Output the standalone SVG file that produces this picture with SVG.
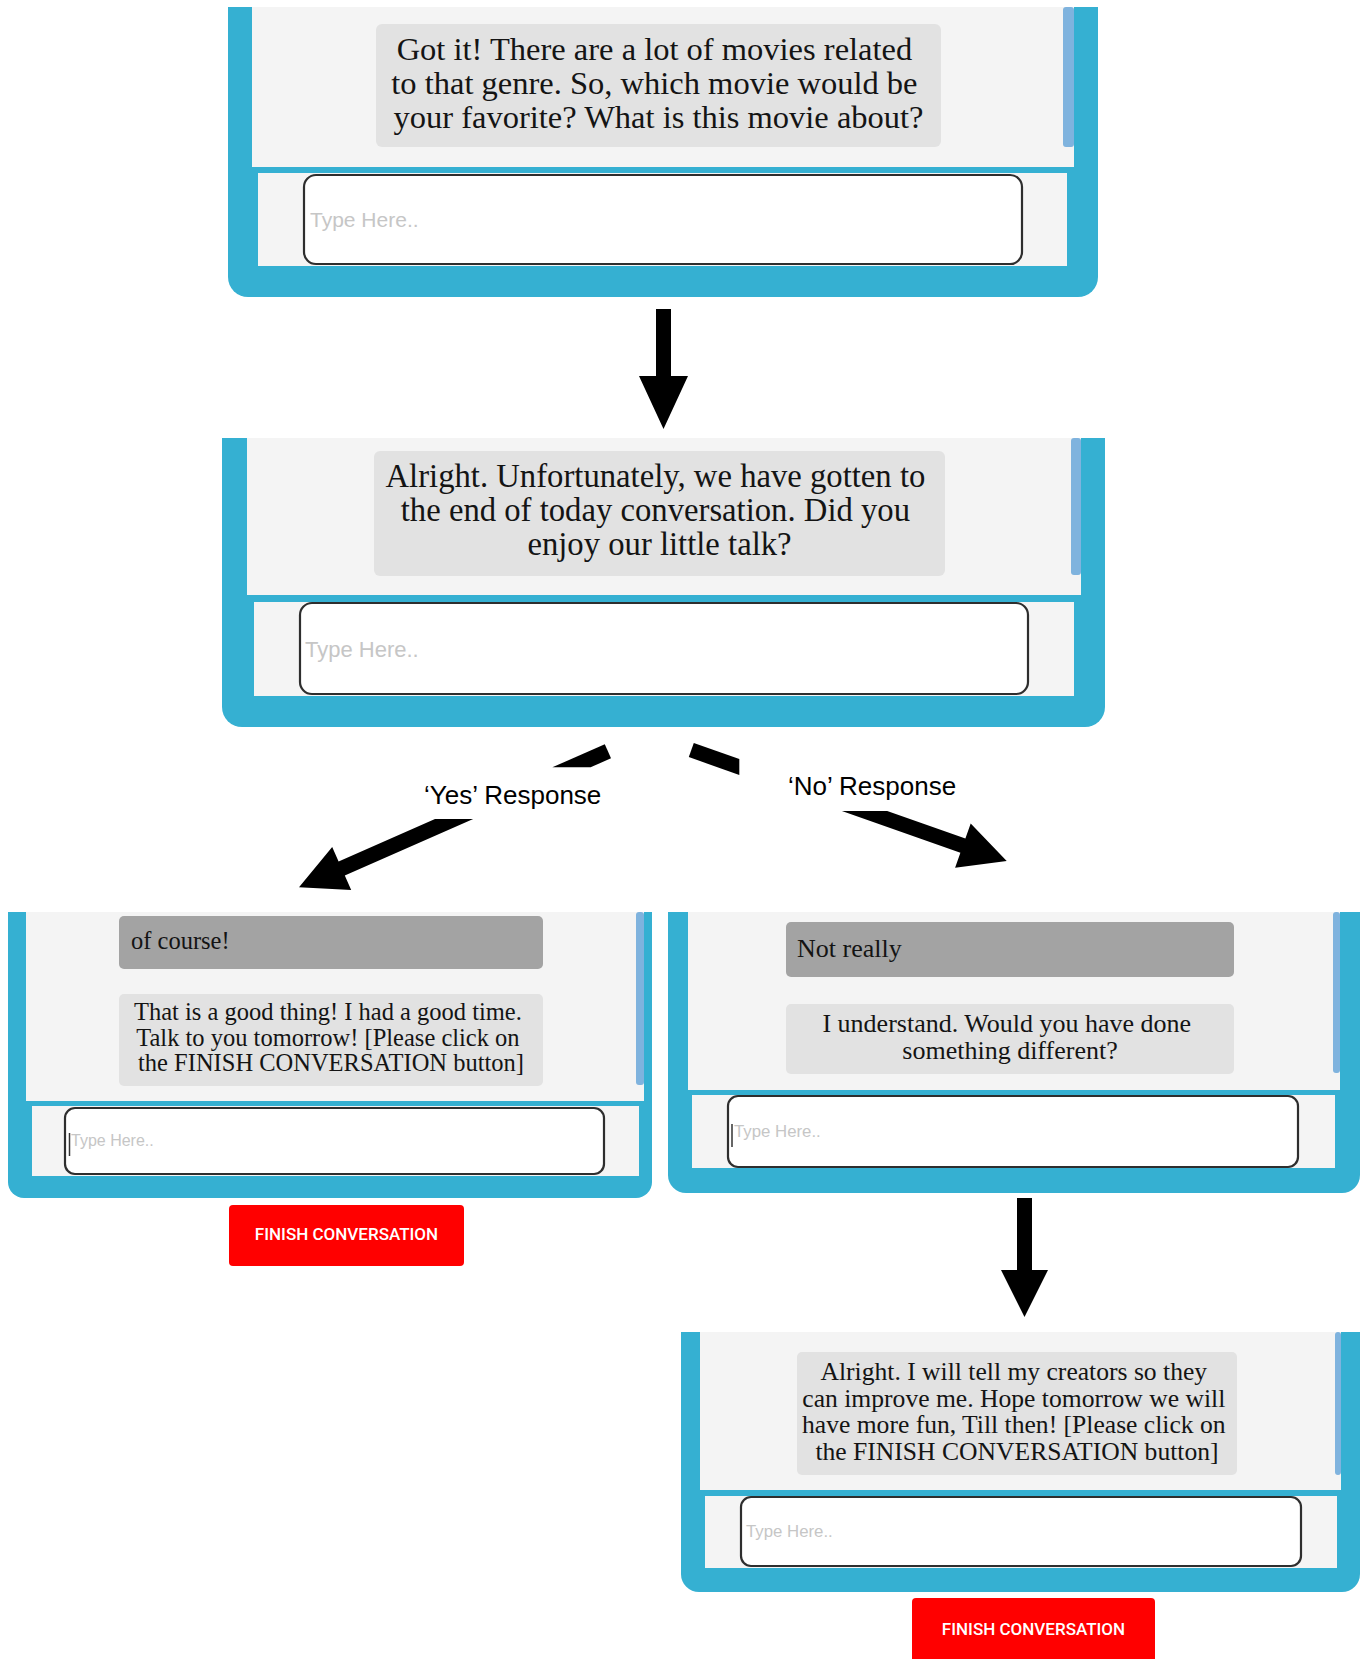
<svg xmlns="http://www.w3.org/2000/svg" width="1364" height="1659" viewBox="0 0 1364 1659">
  <style>
    .frame { fill: #35b0d2; }
    .chat { fill: #f4f4f4; }
    .scroll { fill: #7fb3de; }
    .bot { fill: #e2e2e2; }
    .user { fill: #a3a3a3; }
    .box { fill: #ffffff; stroke: #2e2e2e; stroke-width: 2.2; }
    .msg { font-family: "Liberation Serif", "Times New Roman", serif; fill: #141414; }
    .mid { text-anchor: middle; }
    .ph { font-family: "Liberation Sans", Arial, sans-serif; fill: #c6c6c6; }
    .caret { stroke: #333333; stroke-width: 1.5; }
    .btn { fill: #ff0000; }
    .btntxt { font-family: Roboto, "Liberation Sans", Arial, sans-serif; font-weight: 500; fill: #ffffff; text-anchor: middle; }
    .lbl { font-family: "Liberation Sans", Arial, sans-serif; font-size: 26px; fill: #000000; }
    .arrow { fill: #000000; }
  </style>
  <rect width="1364" height="1659" fill="#ffffff"/>

  <!-- chat window: genre question -->
  <g id="chat-genre">
    <path class="frame" d="M228 7 H1098 V277 A20 20 0 0 1 1078 297 H248 A20 20 0 0 1 228 277 Z"/>
    <rect class="chat" x="252" y="7" width="822" height="160"/>
    <rect class="scroll" x="1063" y="7" width="11" height="140" rx="3"/>
    <rect class="chat" x="258" y="173" width="809" height="93"/>
    <rect class="box" x="304" y="175" width="718" height="89" rx="12"/>
    <text class="ph" x="310" y="227" font-size="21">Type Here..</text>
    <rect class="bot" x="376" y="24" width="565" height="123" rx="6"/>
    <text class="msg mid" font-size="32.5">
      <tspan x="658.5" y="60">Got it! There are a lot of movies related</tspan>
      <tspan x="658.5" y="94">to that genre. So, which movie would be</tspan>
      <tspan x="658.5" y="128">your favorite? What is this movie about?</tspan>
    </text>
  </g>

  <!-- chat window: end of conversation question -->
  <g id="chat-end">
    <path class="frame" d="M222 438 H1105 V707 A20 20 0 0 1 1085 727 H242 A20 20 0 0 1 222 707 Z"/>
    <rect class="chat" x="247" y="438" width="834" height="157"/>
    <rect class="scroll" x="1071" y="438" width="10" height="137" rx="3"/>
    <rect class="chat" x="254" y="602" width="820" height="94"/>
    <rect class="box" x="300" y="603" width="728" height="91" rx="12"/>
    <text class="ph" x="305" y="657" font-size="22">Type Here..</text>
    <rect class="bot" x="374" y="451" width="571" height="125" rx="6"/>
    <text class="msg mid" font-size="32.7">
      <tspan x="659.5" y="487">Alright. Unfortunately, we have gotten to</tspan>
      <tspan x="659.5" y="521">the end of today conversation. Did you</tspan>
      <tspan x="659.5" y="555">enjoy our little talk?</tspan>
    </text>
  </g>

  <!-- chat window: yes branch -->
  <g id="chat-yes">
    <path class="frame" d="M8 912 H652 V1182 A16 16 0 0 1 636 1198 H24 A16 16 0 0 1 8 1182 Z"/>
    <rect class="chat" x="26" y="912" width="618" height="189"/>
    <rect class="scroll" x="636" y="912" width="8" height="173" rx="3"/>
    <rect class="chat" x="32" y="1106" width="607" height="70"/>
    <rect class="box" x="65" y="1108" width="539" height="66" rx="10"/>
    <line class="caret" x1="69.5" y1="1133" x2="69.5" y2="1156"/>
    <text class="ph" x="71" y="1146" font-size="16">Type Here..</text>
    <rect class="user" x="119" y="916" width="424" height="53" rx="5"/>
    <text class="msg" x="131" y="949" font-size="24.5">of course!</text>
    <rect class="bot" x="119" y="994" width="424" height="92" rx="5"/>
    <text class="msg mid" font-size="24.5">
      <tspan x="331" y="1020">That is a good thing! I had a good time.</tspan>
      <tspan x="331" y="1046">Talk to you tomorrow! [Please click on</tspan>
      <tspan x="331" y="1071">the FINISH CONVERSATION button]</tspan>
    </text>
  </g>
  <g id="finish-yes">
    <rect class="btn" x="229" y="1205" width="235" height="61" rx="4"/>
    <text class="btntxt" x="346.5" y="1240" font-size="17">FINISH CONVERSATION</text>
  </g>

  <!-- chat window: no branch -->
  <g id="chat-no">
    <path class="frame" d="M668 912 H1360 V1175 A18 18 0 0 1 1342 1193 H686 A18 18 0 0 1 668 1175 Z"/>
    <rect class="chat" x="688" y="912" width="652" height="178"/>
    <rect class="scroll" x="1333" y="912" width="7" height="161" rx="3"/>
    <rect class="chat" x="692" y="1095" width="643" height="73"/>
    <rect class="box" x="728" y="1096" width="570" height="71" rx="10"/>
    <line class="caret" x1="732" y1="1124" x2="732" y2="1147"/>
    <text class="ph" x="734" y="1137" font-size="16.8">Type Here..</text>
    <rect class="user" x="786" y="922" width="448" height="55" rx="5"/>
    <text class="msg" x="797" y="957" font-size="26">Not really</text>
    <rect class="bot" x="786" y="1004" width="448" height="70" rx="5"/>
    <text class="msg mid" font-size="26">
      <tspan x="1010" y="1032">I understand. Would you have done</tspan>
      <tspan x="1010" y="1059">something different?</tspan>
    </text>
  </g>

  <!-- chat window: closing after no -->
  <g id="chat-close">
    <path class="frame" d="M681 1332 H1360 V1574 A18 18 0 0 1 1342 1592 H699 A18 18 0 0 1 681 1574 Z"/>
    <rect class="chat" x="700" y="1332" width="641" height="158"/>
    <rect class="scroll" x="1335" y="1332" width="6" height="143" rx="3"/>
    <rect class="chat" x="705" y="1496" width="632" height="72"/>
    <rect class="box" x="741" y="1497" width="560" height="69" rx="10"/>
    <text class="ph" x="746" y="1537" font-size="16.8">Type Here..</text>
    <rect class="bot" x="797" y="1352" width="440" height="123" rx="5"/>
    <text class="msg mid" font-size="25.6">
      <tspan x="1017" y="1380">Alright. I will tell my creators so they</tspan>
      <tspan x="1017" y="1406.5">can improve me. Hope tomorrow we will</tspan>
      <tspan x="1017" y="1433">have more fun, Till then! [Please click on</tspan>
      <tspan x="1017" y="1459.5">the FINISH CONVERSATION button]</tspan>
    </text>
  </g>
  <g id="finish-no">
    <rect class="btn" x="912" y="1598" width="243" height="70" rx="4"/>
    <text class="btntxt" x="1033.5" y="1635" font-size="17">FINISH CONVERSATION</text>
  </g>

  <!-- connectors -->
  <g id="connectors">
    <polygon class="arrow" points="656,309 671,309 671,376 688,376 663.5,429 639,376 656,376"/>
    <polygon class="arrow" points="604.8,744.2 611,758.3 590.6,767.3 552.4,767.3"/>
    <polygon class="arrow" points="435,819 473.2,819 344.8,875.5 351.2,890 299,887.3 332.2,847 338.6,861.5"/>
    <text class="lbl" x="424" y="804">‘Yes’ Response</text>
    <polygon class="arrow" points="693.8,742.9 739.3,758.9 739.3,774.9 688.8,757.1"/>
    <polygon class="arrow" points="841.9,811 887.2,811 965.4,838.5 970.7,823.5 1006.7,861 955.1,867.7 960.4,852.7"/>
    <text class="lbl" x="788" y="795">‘No’ Response</text>
    <polygon class="arrow" points="1017,1198 1032,1198 1032,1270 1048,1270 1024.5,1317 1001,1270 1017,1270"/>
  </g>
</svg>
